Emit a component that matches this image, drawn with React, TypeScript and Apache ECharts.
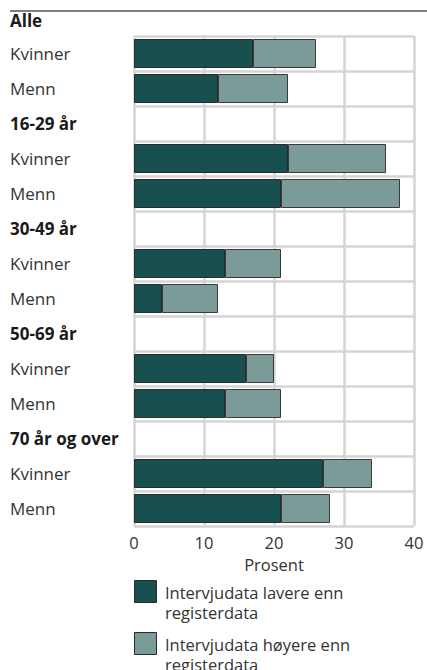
import React, { useEffect, useRef } from "react";
import * as echarts from "echarts";

const categoryIds = [
  "alle-k", "alle-m",
  "h1629", "1629-k", "1629-m",
  "h3049", "3049-k", "3049-m",
  "h5069", "5069-k", "5069-m",
  "h70", "70-k", "70-m",
];
const categoryLabels = [
  "Kvinner", "Menn",
  "16-29 år", "Kvinner", "Menn",
  "30-49 år", "Kvinner", "Menn",
  "50-69 år", "Kvinner", "Menn",
  "70 år og over", "Kvinner", "Menn",
];
const headerFlags = [false, false, true, false, false, true, false, false, true, false, false, true, false, false];
const lowerValues = [17, 12, null, 22, 21, null, 13, 4, null, 16, 13, null, 27, 21];
const higherValues = [9, 10, null, 14, 17, null, 8, 8, null, 4, 8, null, 7, 7];
const xTicks = [0, 10, 20, 30, 40];
const seriesNames = ["Intervjudata lavere enn registerdata", "Intervjudata høyere enn registerdata"];
const legendLines = [
  ["Intervjudata lavere enn", "registerdata"],
  ["Intervjudata høyere enn", "registerdata"],
];
const seriesColors = ["#17504e", "#7a9b98"];
const topHeader = "Alle";
const axisName = "Prosent";

const FONT = "'Open Sans', 'Noto Sans', sans-serif";

export default function App() {
  const ref = useRef<HTMLDivElement>(null);
  useEffect(() => {
    if (!ref.current) return;
    const chart = echarts.init(ref.current, null, { renderer: "svg" });
    const legendGraphics: any[] = [];
    legendLines.forEach((lines, i) => {
      const y0 = 580 + i * 52;
      legendGraphics.push({
        type: "rect",
        shape: { x: 134.5, y: y0 + 0.5, width: 22, height: 22 },
        style: { fill: seriesColors[i], stroke: "#2a2a2a", lineWidth: 1 },
      });
      lines.forEach((line, j) => {
        legendGraphics.push({
          type: "text",
          x: 165,
          y: y0 + 12 + j * 20,
          style: {
            text: line,
            font: `16.5px ${FONT}`,
            fill: "#333",
            verticalAlign: "middle",
            align: "left",
          },
        });
      });
    });
    chart.setOption({
      animation: false,
      textStyle: { fontFamily: FONT },
      graphic: [
        {
          type: "text",
          x: 10,
          y: -19,
          style: { text: "Andel personer med avvik mellom intervju og register", font: `bold 17px ${FONT}`, fill: "#222", verticalAlign: "top" },
        },
        {
          type: "line",
          shape: { x1: 10, y1: 11, x2: 427, y2: 11 },
          style: { stroke: "#555", lineWidth: 1.5 },
        },
        {
          type: "text",
          x: 10,
          y: 20,
          style: { text: topHeader, font: `bold 17px ${FONT}`, fill: "#1a1a1a", verticalAlign: "middle" },
        },
        ...legendGraphics,
      ],
      grid: { left: 134, top: 36, width: 280, height: 490, containLabel: false },
      xAxis: {
        type: "value",
        min: 0,
        max: 40,
        interval: 10,
        axisLine: { show: false },
        axisTick: { show: false },
        splitLine: { show: true, lineStyle: { color: "#d5d5d5", width: 2.5 } },
        axisLabel: {
          fontSize: 16.5,
          color: "#333",
          margin: 8,
          fontFamily: FONT,
          formatter: (v: number) => (xTicks.includes(v) ? String(v) : ""),
        },
        name: axisName,
        nameLocation: "middle",
        nameGap: 27,
        nameTextStyle: { fontSize: 16.5, color: "#333", fontFamily: FONT },
      },
      yAxis: {
        type: "category",
        inverse: true,
        data: categoryIds,
        axisLine: { show: false },
        axisTick: { show: false },
        splitLine: { show: true, lineStyle: { color: "#d5d5d5", width: 2.5 } },
        axisLabel: {
          align: "left",
          margin: 124,
          formatter: (_v: string, i: number) =>
            headerFlags[i] ? `{h|${categoryLabels[i]}}` : `{n|${categoryLabels[i]}}`,
          rich: {
            h: { fontSize: 17, fontWeight: "bold", color: "#1a1a1a", fontFamily: FONT },
            n: { fontSize: 17, color: "#333", fontFamily: FONT },
          },
        },
      },
      series: [
        {
          name: seriesNames[0],
          type: "bar",
          stack: "total",
          barWidth: 29,
          data: lowerValues,
          itemStyle: { color: seriesColors[0], borderColor: "#2a2a2a", borderWidth: 1 },
        },
        {
          name: seriesNames[1],
          type: "bar",
          stack: "total",
          barWidth: 29,
          data: higherValues,
          itemStyle: { color: seriesColors[1], borderColor: "#3a3a3a", borderWidth: 1 },
        },
      ],
    });
    return () => chart.dispose();
  }, []);
  return (
    <div
      ref={ref}
      style={{ position: "absolute", left: 0, top: 0, width: 427, height: 670, background: "#fff" }}
    />
  );
}
